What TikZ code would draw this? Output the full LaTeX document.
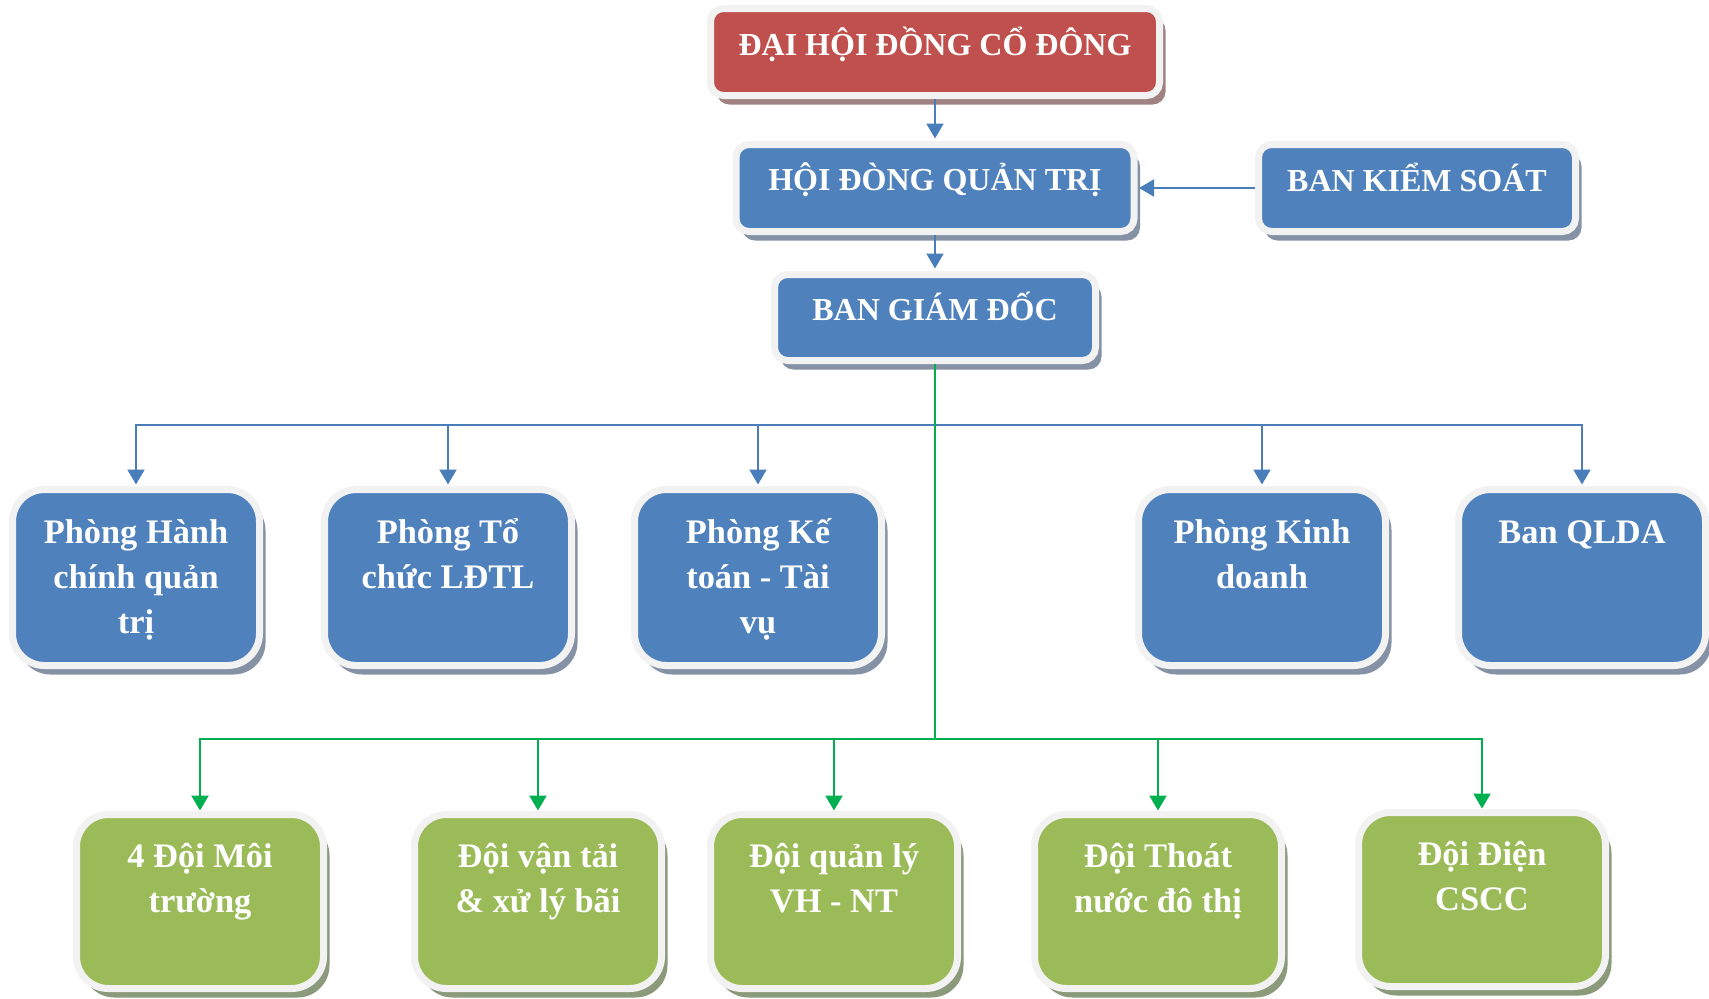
\documentclass[tikz,border=0pt]{standalone}
\usepackage{fontspec}
\setmainfont{Liberation Serif}
\usetikzlibrary{arrows.meta,shadows}
\definecolor{boxred}{HTML}{C0504D}
\definecolor{boxblue}{HTML}{4F81BD}
\definecolor{boxgreen}{HTML}{9BBB59}
\definecolor{rim}{HTML}{F2F2F2}
\definecolor{lineblue}{HTML}{4A7EBB}
\definecolor{linegreen}{HTML}{00B050}
\definecolor{shred}{HTML}{A08282}
\definecolor{shblue}{HTML}{8592A6}
\definecolor{shgreen}{HTML}{8C9A7C}
\newcommand\topstrutx{\rule{0pt}{20pt}}
\begin{document}
\begin{tikzpicture}[x=0.5pt,y=-0.5pt,
  boxbase/.style={rectangle, draw=rim, line width=3.5pt, inner sep=0pt, outer sep=0pt, anchor=north},
  topbox/.style={boxbase, rounded corners=6.5pt, minimum height=43.5pt},
  rowbox/.style={boxbase, rounded corners=16pt, minimum width=123.5pt},
  redbox/.style={topbox, fill=boxred, drop shadow={shadow xshift=3pt, shadow yshift=-4.5pt, fill=shred, opacity=1}},
  bluebox/.style={topbox, fill=boxblue, drop shadow={shadow xshift=3pt, shadow yshift=-4.5pt, fill=shblue, opacity=1}},
  bluerow/.style={rowbox, fill=boxblue, minimum height=88pt, drop shadow={shadow xshift=3pt, shadow yshift=-4.5pt, fill=shblue, opacity=1}},
  greenrow/.style={rowbox, fill=boxgreen, minimum height=87pt, drop shadow={shadow xshift=3pt, shadow yshift=-4.5pt, fill=shgreen, opacity=1}},
  lbl/.style={text=white, align=center, inner sep=0pt, outer sep=0pt, anchor=north},
  toplbl/.style={lbl, font=\bfseries\fontsize{16}{21}\selectfont},
  rowlbl/.style={lbl, font=\bfseries\fontsize{17.2}{22.5}\selectfont},
  barrow/.style={draw=lineblue, line width=1pt, -{Triangle[width=8.5pt,length=7.5pt]}},
  garrow/.style={draw=linegreen, line width=1.1pt, -{Triangle[width=8.5pt,length=7.5pt]}},
]
\useasboundingbox (0,0) rectangle (1709,998);

% top level boxes
\node[redbox, minimum width=224.5pt] (dh) at (935,8.5) {};
\node[toplbl] (dht) at (935,15) {\topstrutx ĐẠI HỘI ĐỒNG CỔ ĐÔNG};
\node[bluebox, minimum width=199pt] (hd) at (935,144.5) {};
\node[toplbl] (hdt) at (935,150) {\topstrutx HỘI ĐÒNG QUẢN TRỊ};
\node[bluebox, minimum width=158.5pt] (bks) at (1417,144.5) {};
\node[toplbl] (bkst) at (1417,151) {\topstrutx BAN KIỂM SOÁT};
\node[bluebox, minimum width=160.5pt, minimum height=43pt] (bgd) at (935,274.5) {};
\node[toplbl] (bgdt) at (935,280) {\topstrutx BAN GIÁM ĐỐC};

% departments
\node[bluerow] (b1) at (136,489.5) {};
\node[rowlbl] (b1t) at (136,503) {\topstrutx Phòng Hành\\chính quản\\trị};
\node[bluerow] (b2) at (448,489.5) {};
\node[rowlbl] (b2t) at (448,503) {\topstrutx Phòng Tổ\\chức LĐTL};
\node[bluerow] (b3) at (758,489.5) {};
\node[rowlbl] (b3t) at (758,503) {\topstrutx Phòng Kế\\toán - Tài\\vụ};
\node[bluerow] (b4) at (1262,489.5) {};
\node[rowlbl] (b4t) at (1262,503) {\topstrutx Phòng Kinh\\doanh};
\node[bluerow] (b5) at (1582,489.5) {};
\node[rowlbl] (b5t) at (1582,503) {\topstrutx Ban QLDA};

% teams
\node[greenrow] (g1) at (200,814.5) {};
\node[rowlbl] (g1t) at (200,827) {\topstrutx 4 Đội Môi\\trường};
\node[greenrow] (g2) at (538,814.5) {};
\node[rowlbl] (g2t) at (538,827) {\topstrutx Đội vận tải\\\& xử lý bãi};
\node[greenrow] (g3) at (834,814.5) {};
\node[rowlbl] (g3t) at (834,827) {\topstrutx Đội quản lý\\VH - NT};
\node[greenrow] (g4) at (1158,814.5) {};
\node[rowlbl] (g4t) at (1158,827) {\topstrutx Đội Thoát\\nước đô thị};
\node[greenrow] (g5) at (1482,812.5) {};
\node[rowlbl] (g5t) at (1482,825) {\topstrutx Đội Điện\\CSCC};

% connectors
\coordinate (bl) at (0,425);
\coordinate (gl) at (0,739);
\draw[barrow, shorten <=1.75pt, shorten >=3pt] (dh.south) -- (hd.north);
\draw[barrow, shorten <=1.75pt, shorten >=3pt] (hd.south) -- (bgd.north);
\draw[barrow, shorten <=1.75pt, shorten >=2.5pt] (bks.west) -- (hd.east);
\foreach \t in {b1,b2,b3,b4,b5}
  \draw[barrow, shorten <=1.75pt, shorten >=2.5pt] (bgd.south) -- (bgd.south |- bl) -| (\t.north);
\foreach \t in {g1,g2,g3,g4,g5}
  \draw[garrow, shorten <=1.75pt, shorten >=2pt] (bgd.south) -- (bgd.south |- gl) -| (\t.north);
\end{tikzpicture}
\end{document}
